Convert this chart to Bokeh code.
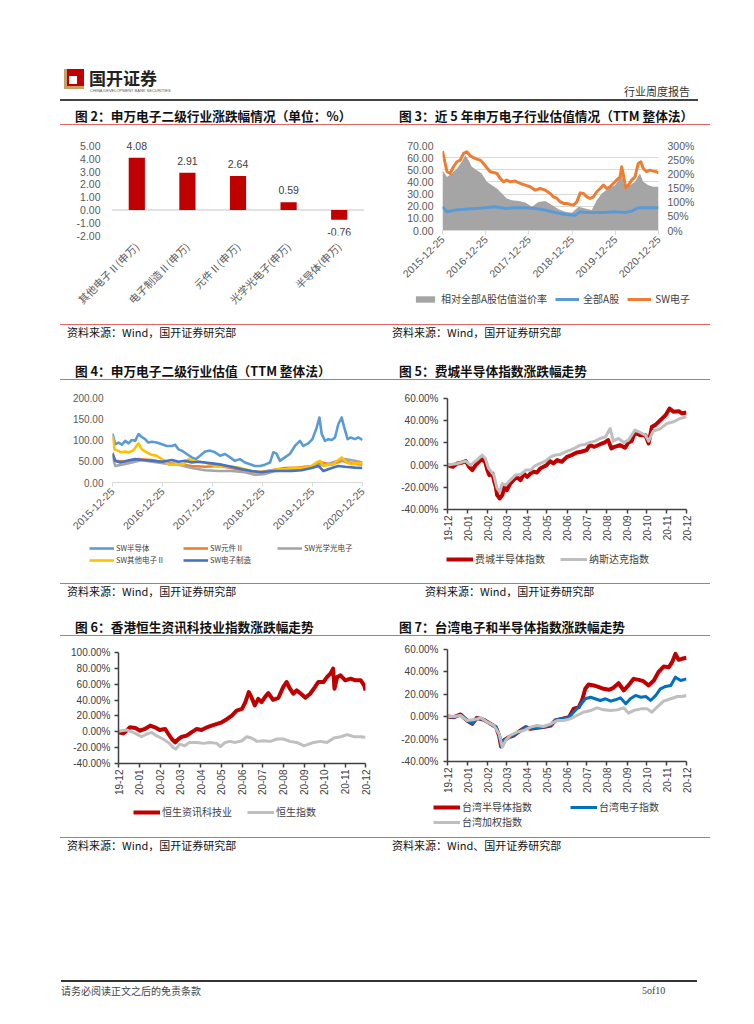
import math
import pandas as pd
from bokeh.plotting import figure
from bokeh.models import (ColumnDataSource, Div, Spacer, Span, LabelSet, Legend, LegendItem,
                          LinearAxis, Range1d, FixedTicker, DatetimeTickFormatter,
                          NumeralTickFormatter, PrintfTickFormatter, FactorRange)
from bokeh.layouts import column, row
from bokeh.core.properties import value
from bokeh.embed import file_html
from bokeh.resources import INLINE

CJK = "Noto Sans CJK SC"
LAT = "Liberation Sans"

# ---------------- 图2 data ----------------
c2_categories = ["其他电子Ⅱ(申万)", "电子制造Ⅱ(申万)", "元件Ⅱ(申万)", "光学光电子(申万)", "半导体(申万)"]
c2_values = [4.08, 2.91, 2.64, 0.59, -0.76]
c2_yticks = [-2, -1, 0, 1, 2, 3, 4, 5]

# ---------------- 图3 data ----------------
c3_xticks = ["2015-12-25", "2016-12-25", "2017-12-25", "2018-12-25", "2019-12-25", "2020-12-25"]
c3_pe_ticks = [0, 10, 20, 30, 40, 50, 60, 70]
c3_pct_ticks = [0, 50, 100, 150, 200, 250, 300]
c3_sw_dates = ["2015-12-25", "2016-02-01", "2016-02-28", "2016-03-27", "2016-04-25", "2016-05-23", "2016-06-20",
               "2016-07-18", "2016-08-15", "2016-09-12", "2016-10-10", "2016-11-08", "2016-12-06",
               "2017-01-03", "2017-01-31", "2017-03-01", "2017-03-29", "2017-04-26", "2017-05-24", "2017-06-21",
               "2017-07-19", "2017-08-31", "2017-10-13", "2017-11-24",
               "2018-01-05", "2018-02-16", "2018-03-31", "2018-05-12", "2018-06-23", "2018-07-21", "2018-08-19",
               "2018-09-16", "2018-10-14", "2018-11-11", "2018-12-09",
               "2019-01-06", "2019-02-03", "2019-03-04", "2019-04-01", "2019-04-29", "2019-05-27", "2019-06-24",
               "2019-07-22", "2019-08-19", "2019-09-16", "2019-10-14", "2019-11-11", "2019-12-09",
               "2020-01-06", "2020-02-04", "2020-02-18", "2020-03-03", "2020-03-23", "2020-04-14", "2020-05-12",
               "2020-06-09", "2020-07-07", "2020-07-29", "2020-08-18", "2020-09-15", "2020-10-13", "2020-11-10",
               "2020-12-08", "2020-12-25"]
c3_sw = [65.4, 48.4, 47.0, 52.5, 56.6, 58.0, 63.5, 64.8, 61.5, 60.0, 58.8, 58.0, 55.2,
         51.6, 48.4, 47.8, 47.0, 42.9, 40.1, 41.5, 40.1, 40.7, 38.7, 37.4,
         36.0, 33.2, 34.6, 33.2, 30.5, 27.7, 26.4, 23.6, 22.3, 22.3, 21.4,
         20.9, 23.6, 31.0, 30.5, 27.7, 26.4, 27.7, 31.9, 34.6, 37.4, 34.6, 36.0, 38.7,
         41.5, 44.2, 52.5, 45.6, 35.2, 37.4, 41.5, 44.2, 55.2, 56.6, 51.1, 48.4, 49.7, 48.9, 48.4, 47.5]
c3_a_dates = ["2015-12-25", "2016-02-01", "2016-04-11", "2016-07-04", "2016-09-26", "2016-12-20", "2017-03-15",
              "2017-06-08", "2017-08-31", "2017-11-24", "2018-02-16", "2018-05-12", "2018-08-04", "2018-10-28",
              "2019-01-20", "2019-03-04", "2019-04-15", "2019-07-08", "2019-09-30", "2019-12-24", "2020-03-17",
              "2020-05-12", "2020-07-07", "2020-09-30", "2020-12-25"]
c3_a = [19.5, 15.4, 16.8, 17.6, 18.1, 18.7, 19.5, 18.1, 18.7, 18.7, 18.1, 16.8, 14.8, 13.2,
        12.6, 15.4, 14.8, 14.8, 14.8, 15.4, 14.8, 15.9, 18.7, 18.7, 18.7]
c3_prem_dates = ["2015-12-25", "2016-02-01", "2016-03-14", "2016-04-25", "2016-06-06", "2016-07-04", "2016-08-01",
                 "2016-08-29", "2016-10-10", "2016-11-21",
                 "2017-01-03", "2017-02-15", "2017-03-29", "2017-05-10", "2017-06-21", "2017-08-03", "2017-09-28",
                 "2017-11-24",
                 "2018-01-19", "2018-03-16", "2018-05-12", "2018-07-07", "2018-09-01", "2018-10-28", "2018-12-23",
                 "2019-02-18", "2019-04-15", "2019-06-10", "2019-07-22", "2019-09-02", "2019-10-28", "2019-12-24",
                 "2020-02-18", "2020-03-17", "2020-04-28", "2020-06-09", "2020-07-21", "2020-08-18", "2020-09-30",
                 "2020-11-10", "2020-12-25"]
c3_prem = [213, 189, 201, 219, 243, 266, 249, 225, 213, 201,
           172, 160, 148, 131, 113, 107, 104, 99,
           84, 101, 104, 90, 75, 66, 63,
           84, 78, 72, 107, 131, 148, 160,
           195, 148, 160, 172, 201, 172, 160, 154, 154]

# ---------------- 图4 data ----------------
c4_yticks = [0, 50, 100, 150, 200]
c4_semi_dates = ["2015-12-25", "2016-01-14", "2016-02-07", "2016-03-03", "2016-03-27", "2016-04-20", "2016-05-14",
                 "2016-06-08", "2016-07-02", "2016-07-26", "2016-08-19", "2016-09-12", "2016-10-07", "2016-11-12",
                 "2016-12-20",
                 "2017-01-25", "2017-03-03", "2017-03-27", "2017-04-20", "2017-05-14", "2017-06-20", "2017-07-26",
                 "2017-08-24", "2017-09-25", "2017-10-31", "2017-12-07",
                 "2018-01-12", "2018-02-18", "2018-03-26", "2018-05-02", "2018-06-07", "2018-07-13", "2018-08-19",
                 "2018-09-25", "2018-10-31", "2018-12-07",
                 "2019-01-12", "2019-02-18", "2019-03-14", "2019-04-07", "2019-05-01", "2019-06-07", "2019-07-13",
                 "2019-08-19", "2019-09-25", "2019-10-19", "2019-11-25", "2019-12-25",
                 "2020-01-25", "2020-02-14", "2020-03-02", "2020-03-26", "2020-04-20", "2020-05-14", "2020-06-07",
                 "2020-07-01", "2020-07-26", "2020-08-14", "2020-09-07", "2020-10-01", "2020-10-30", "2020-11-24",
                 "2020-12-25"]
c4_semi = [115, 90, 94, 89, 98, 92, 100, 98, 114, 107, 102, 94, 96, 94, 90,
           86, 86, 89, 78, 75, 67, 59, 55, 63, 73, 75,
           71, 63, 67, 59, 51, 55, 47, 43, 39, 39,
           42, 47, 71, 68, 51, 59, 67, 86, 98, 86, 92, 102,
           129, 153, 114, 98, 102, 100, 106, 137, 153, 129, 102, 106, 102, 106, 100]
c4_comp_dates = ["2015-12-25", "2016-01-14", "2016-03-27", "2016-07-02", "2016-10-07", "2017-01-12", "2017-04-20",
                 "2017-07-26", "2017-10-31", "2018-02-07", "2018-05-14", "2018-08-19", "2018-11-25", "2019-03-03",
                 "2019-06-07", "2019-09-13", "2019-12-20", "2020-03-02", "2020-05-14", "2020-07-26", "2020-10-07",
                 "2020-12-25"]
c4_comp = [70, 51, 49, 55, 53, 47, 43, 39, 37, 39, 34, 27, 24, 29, 34, 35, 39, 47, 42, 51, 45, 42]
c4_opt_dates = ["2015-12-25", "2016-01-14", "2016-03-03", "2016-05-14", "2016-07-26", "2016-10-07", "2017-01-12",
                "2017-04-20", "2017-07-26", "2017-10-31", "2018-02-07", "2018-05-14", "2018-08-19", "2018-10-31",
                "2019-01-12", "2019-03-26", "2019-07-02", "2019-10-07", "2020-01-12", "2020-03-26", "2020-07-01",
                "2020-08-19", "2020-10-30", "2020-12-25"]
c4_opt = [59, 39, 42, 47, 53, 49, 45, 42, 34, 29, 27, 27, 24, 18, 20, 27, 29, 31, 39, 42, 51, 55, 51, 47]
c4_other_dates = ["2015-12-25", "2016-01-09", "2016-02-02", "2016-02-26", "2016-03-27", "2016-04-20", "2016-05-26",
                  "2016-07-02", "2016-07-26", "2016-08-31", "2016-10-07", "2016-11-12", "2016-12-20",
                  "2017-01-12", "2017-02-07", "2017-03-15", "2017-04-20", "2017-05-26", "2017-07-02", "2017-08-07",
                  "2017-09-13", "2017-10-31", "2017-12-20",
                  "2018-02-07", "2018-03-26", "2018-05-14", "2018-07-02", "2018-08-19", "2018-10-07", "2018-11-25",
                  "2019-01-12", "2019-03-03", "2019-04-20", "2019-06-07", "2019-07-26", "2019-09-13", "2019-10-31",
                  "2019-12-20",
                  "2020-01-25", "2020-02-19", "2020-03-14", "2020-04-20", "2020-05-26", "2020-07-01", "2020-07-26",
                  "2020-08-31", "2020-10-07", "2020-11-12", "2020-12-25"]
c4_other = [110, 78, 75, 71, 73, 71, 76, 92, 78, 71, 65, 63, 55,
            51, 42, 42, 43, 42, 55, 51, 49, 47, 42,
            37, 39, 37, 35, 31, 27, 25,
            24, 29, 31, 31, 34, 34, 35, 39,
            47, 51, 39, 42, 43, 53, 59, 47, 43, 45, 45]
c4_mfg_dates = ["2015-12-25", "2016-01-14", "2016-02-19", "2016-04-08", "2016-06-08", "2016-07-26", "2016-10-07",
                "2016-12-20", "2017-03-03", "2017-04-20", "2017-06-08", "2017-07-26", "2017-09-13", "2017-10-31",
                "2017-12-20", "2018-03-02", "2018-05-14", "2018-07-26", "2018-10-07", "2018-12-20", "2019-03-03",
                "2019-05-14", "2019-07-26", "2019-10-07", "2019-12-20", "2020-02-07", "2020-03-14", "2020-05-14",
                "2020-07-01", "2020-08-19", "2020-10-30", "2020-12-25"]
c4_mfg = [67, 51, 47, 51, 55, 53, 51, 49, 53, 49, 51, 47, 49, 47, 45, 42, 37, 31, 27, 24, 27,
          27, 27, 29, 34, 39, 27, 34, 39, 37, 35, 34]

# ---------------- 图5/6/7 shared axis ----------------
c57_xticks = ["2019-12-01", "2020-01-01", "2020-02-01", "2020-03-01", "2020-04-01", "2020-05-01", "2020-06-01",
              "2020-07-01", "2020-08-01", "2020-09-01", "2020-10-01", "2020-11-01", "2020-12-01"]

# ---------------- 图5 data ----------------
c5_yticks = [-40, -20, 0, 20, 40, 60]
c5_sox_dates = ["2019-12-01", "2019-12-09", "2019-12-16", "2019-12-24", "2019-12-29", "2020-01-03", "2020-01-08",
                "2020-01-13", "2020-01-18", "2020-01-23", "2020-01-28", "2020-01-31", "2020-02-03", "2020-02-08",
                "2020-02-10", "2020-02-13", "2020-02-15", "2020-02-19", "2020-02-23", "2020-02-26", "2020-03-01",
                "2020-03-06", "2020-03-11", "2020-03-16", "2020-03-22", "2020-03-27", "2020-04-01", "2020-04-06",
                "2020-04-11", "2020-04-16", "2020-04-21", "2020-04-26", "2020-05-01", "2020-05-06", "2020-05-11",
                "2020-05-17", "2020-05-24", "2020-06-01", "2020-06-08", "2020-06-16", "2020-06-23", "2020-07-01",
                "2020-07-06", "2020-07-13", "2020-07-21", "2020-07-29", "2020-08-03", "2020-08-08", "2020-08-13",
                "2020-08-21", "2020-08-29", "2020-09-03", "2020-09-08", "2020-09-13", "2020-09-21", "2020-09-29",
                "2020-10-04", "2020-10-09", "2020-10-14", "2020-10-22", "2020-10-30", "2020-11-05", "2020-11-11",
                "2020-11-19", "2020-11-24", "2020-12-01"]
c5_sox = [0, -1.5, 1.5, 2.4, 3.6, -1.5, -4.5, 0, 3, 5.4, 2.4, -4.5, -9, -7.6, -13.6, -19.6, -27, -30, -27,
          -19.6, -22.6, -16.6, -13.6, -10.6, -13.6, -7.6, -10.6, -7.6, -6, -6.6, -3, -1.5, 0, 3.6, 1.5, 4.5,
          3, 7.4, 9, 11.4, 12, 13.5, 18, 16.5, 18.6, 20.4, 22.5, 15, 16.5, 18, 15.6, 20.4, 21.6, 29.4, 27, 27,
          19.5, 34.5, 36, 40.5, 45, 51, 48, 48.6, 46.5, 47.4]
c5_ndq_dates = ["2019-12-01", "2019-12-16", "2019-12-29", "2020-01-05", "2020-01-15", "2020-01-23", "2020-01-28",
                "2020-02-02", "2020-02-10", "2020-02-15", "2020-02-19", "2020-02-23", "2020-02-28", "2020-03-06",
                "2020-03-14", "2020-03-22", "2020-03-30", "2020-04-06", "2020-04-13", "2020-04-21", "2020-04-29",
                "2020-05-07", "2020-05-14", "2020-05-22", "2020-05-30", "2020-06-06", "2020-06-14", "2020-06-21",
                "2020-06-29", "2020-07-06", "2020-07-14", "2020-07-22", "2020-07-30", "2020-08-06", "2020-08-11",
                "2020-08-19", "2020-08-27", "2020-09-03", "2020-09-13", "2020-09-21", "2020-09-29", "2020-10-04",
                "2020-10-11", "2020-10-21", "2020-11-01", "2020-11-11", "2020-11-21", "2020-12-01"]
c5_ndq = [0, 1.5, 3.6, 0, 4.5, 9, 6, -3, -9, -21, -24, -16.6, -18, -13.6, -9, -8.4, -4.5, -4.5, -0.6, 1.5,
          3.6, 7.4, 9, 9.6, 12, 13.5, 15.6, 18, 18.6, 20.4, 21.6, 24, 25.5, 33, 21.6, 24, 20.4, 22.5, 31.5,
          29.4, 27, 21.6, 30.6, 32.4, 37.5, 39, 42, 43.5]

# ---------------- 图6 data ----------------
c6_yticks = [-40, -20, 0, 20, 40, 60, 80, 100]
c6_it_dates = ["2019-12-01", "2019-12-08", "2019-12-13", "2019-12-18", "2019-12-26",
               "2020-01-02", "2020-01-09", "2020-01-17", "2020-01-24", "2020-01-31",
               "2020-02-08", "2020-02-13", "2020-02-18", "2020-02-23", "2020-02-28",
               "2020-03-04", "2020-03-11", "2020-03-18", "2020-03-26",
               "2020-04-02", "2020-04-10", "2020-04-17", "2020-04-25",
               "2020-05-02", "2020-05-10", "2020-05-17", "2020-05-24",
               "2020-06-01", "2020-06-06", "2020-06-11", "2020-06-15", "2020-06-20", "2020-06-25", "2020-06-30",
               "2020-07-05", "2020-07-10", "2020-07-17", "2020-07-25",
               "2020-08-01", "2020-08-06", "2020-08-11", "2020-08-16", "2020-08-21", "2020-08-26",
               "2020-09-03", "2020-09-10", "2020-09-17", "2020-09-22", "2020-09-30",
               "2020-10-05", "2020-10-10", "2020-10-14", "2020-10-16", "2020-10-20", "2020-10-25",
               "2020-11-01", "2020-11-09", "2020-11-16", "2020-11-24", "2020-11-29",
               "2020-12-01"]
c6_it = [-0.7, -2, 1.4, 5.7, 4.8,
         1.4, 3.6, 7.8, 5.7, 2.3,
         3.6, -2.8, -9.1, -13.4, -9.1,
         -6.2, -4.9, -0.7, 3.6,
         2.3, 5.7, 7.8, 9.9,
         12, 16.2, 20.5, 26.8,
         28.9, 37.4, 50.1, 43.7, 33.2, 41.6, 37.4,
         43.7, 48.8, 40.4, 42.9,
         56.4, 62.8, 54.3, 48, 52.2, 48.8,
         42.9, 48, 56.4, 62.8, 62.8,
         69.1, 73.3, 79.7, 54.3, 69.1, 71.2,
         64.9, 67, 64.9, 64.9, 58.5,
         52.2]
c6_hsi_dates = ["2019-12-01", "2019-12-13", "2019-12-26",
                "2020-01-04", "2020-01-12", "2020-01-19", "2020-01-26",
                "2020-02-05", "2020-02-13", "2020-02-20", "2020-02-24",
                "2020-03-01", "2020-03-08", "2020-03-15", "2020-03-26",
                "2020-04-05", "2020-04-15", "2020-04-25", "2020-04-30",
                "2020-05-07", "2020-05-14", "2020-05-22",
                "2020-06-01", "2020-06-08", "2020-06-15", "2020-06-23",
                "2020-07-03", "2020-07-13", "2020-07-23",
                "2020-08-01", "2020-08-11", "2020-08-21",
                "2020-09-01", "2020-09-08", "2020-09-15", "2020-09-25",
                "2020-10-05", "2020-10-15", "2020-10-25",
                "2020-11-04", "2020-11-14", "2020-11-24",
                "2020-12-01"]
c6_hsi = [0.6, 2.3, -2,
          -6.2, -2.8, -0.7, -4.9,
          -9.1, -13.4, -19.7, -21.8,
          -15.5, -17.7, -13.4, -13.4,
          -14.6, -13.4, -14.6, -18.9,
          -13.4, -12.1, -13.4,
          -11.3, -6.2, -7.9, -12.1,
          -11.3, -12.1, -9.1,
          -9.1, -12.1, -13.4,
          -17.7, -15.5, -13.4, -12.1,
          -13.4, -7.9, -6.2,
          -3.6, -6.2, -6.2,
          -7]

# ---------------- 图7 data ----------------
c7_yticks = [-40, -20, 0, 20, 40, 60]
c7_semi_dates = ["2019-12-01", "2019-12-11", "2019-12-21", "2019-12-31",
                 "2020-01-08", "2020-01-15", "2020-01-26",
                 "2020-02-05", "2020-02-13", "2020-02-18", "2020-02-21", "2020-02-25",
                 "2020-03-04", "2020-03-11", "2020-03-22", "2020-03-30",
                 "2020-04-06", "2020-04-16", "2020-04-26",
                 "2020-05-07", "2020-05-14", "2020-05-24",
                 "2020-06-04", "2020-06-11", "2020-06-19", "2020-06-24", "2020-06-29",
                 "2020-07-04", "2020-07-12", "2020-07-20", "2020-07-27",
                 "2020-08-04", "2020-08-11", "2020-08-19", "2020-08-27",
                 "2020-09-03", "2020-09-11", "2020-09-19", "2020-09-26",
                 "2020-10-04", "2020-10-12", "2020-10-19", "2020-10-27",
                 "2020-11-04", "2020-11-09", "2020-11-14", "2020-11-19", "2020-11-24",
                 "2020-12-01"]
c7_semi = [0.2, -0.4, 2, -3.4,
           -6.4, -1, -2.8,
           -6.4, -9.3, -16.8, -26.6, -21.3,
           -18.3, -16.8, -12.3, -9.3,
           -10.8, -9.9, -9.3,
           -7.9, -3.4, -1.9,
           -0.4, 7, 8.5, 14.5, 24.9,
           28.8, 27.9, 26.4, 24.9,
           24, 25.8, 29.9, 23.4,
           27.9, 33.8, 32.9, 31.7,
           27.9, 32.3, 39.8, 44.8,
           44.2, 48.7, 56.1, 50.8, 51.7,
           52.6]
c7_elec_dates = ["2019-12-01", "2019-12-11", "2019-12-21", "2019-12-31",
                 "2020-01-08", "2020-01-15", "2020-01-26",
                 "2020-02-05", "2020-02-13", "2020-02-18", "2020-02-21", "2020-02-25",
                 "2020-03-04", "2020-03-11", "2020-03-22", "2020-03-30",
                 "2020-04-06", "2020-04-16", "2020-04-26",
                 "2020-05-07", "2020-05-14", "2020-05-24",
                 "2020-06-04", "2020-06-11", "2020-06-21", "2020-06-29",
                 "2020-07-07", "2020-07-14", "2020-07-22", "2020-07-30",
                 "2020-08-07", "2020-08-14", "2020-08-22", "2020-08-30",
                 "2020-09-06", "2020-09-14", "2020-09-22", "2020-09-30",
                 "2020-10-07", "2020-10-15", "2020-10-22", "2020-10-30",
                 "2020-11-07", "2020-11-14", "2020-11-22",
                 "2020-12-01"]
c7_elec = [0.2, -0.4, 1.5, -3.4,
           -6.0, -1.2, -2.8,
           -6.6, -9.0, -16.0, -26.0, -21.0,
           -18.5, -16.5, -12.5, -9.5,
           -10.5, -9.8, -9.3,
           -7.5, -3.2, -1.9,
           -0.8, 4, 10, 16,
           17.4, 16, 14.5, 16,
           13.9, 15.1, 16.8, 11.5,
           16, 19, 17.4, 18,
           14.5, 19, 24.9, 27,
           27.9, 35.3, 32.3,
           33.8]
c7_taiex_dates = ["2019-12-01", "2019-12-11", "2019-12-21", "2019-12-31",
                  "2020-01-10", "2020-01-21", "2020-01-31",
                  "2020-02-10", "2020-02-18", "2020-02-23", "2020-02-28",
                  "2020-03-06", "2020-03-16", "2020-03-27",
                  "2020-04-06", "2020-04-16", "2020-04-26",
                  "2020-05-07", "2020-05-17", "2020-05-27",
                  "2020-06-06", "2020-06-16", "2020-06-26",
                  "2020-07-07", "2020-07-17", "2020-07-27",
                  "2020-08-07", "2020-08-17", "2020-08-27",
                  "2020-09-03", "2020-09-11", "2020-09-22",
                  "2020-10-02", "2020-10-09", "2020-10-17", "2020-10-27",
                  "2020-11-07", "2020-11-17", "2020-11-24",
                  "2020-12-01"]
c7_taiex = [0.2, 0.2, 1.1, -3.4,
            -2.8, -1, -4.9,
            -7.9, -15.3, -27.2, -21.3,
            -16.8, -13.8, -12.3,
            -9.3, -7.9, -8.8,
            -6.4, -3.4, -3.4,
            -1.9, 1.1, 4,
            5.5, 7.9, 6.1,
            5.5, 6.1, 7.9,
            3.2, 5.5, 7,
            7, 4, 8.5, 13.9,
            16, 18, 18,
            19]


# ======================= helpers =======================
def dt(lst):
    return pd.to_datetime(lst)


def ms(lst):
    return [pd.Timestamp(t).value / 1e6 for t in lst]


def src(dates, vals):
    n = min(len(dates), len(vals))
    return ColumnDataSource(dict(d=dt(dates[:n]), v=vals[:n]))


def no_align(p):
    if "frame_align" in p.properties():
        p.frame_align = False


def make_fig(w, h, l, r, t, b, xr, yr, xtype="auto"):
    p = figure(width=w, height=h, x_range=xr, y_range=yr, x_axis_type=xtype,
               output_backend="svg", toolbar_location=None,
               min_border_left=l, min_border_right=r, min_border_top=t, min_border_bottom=b)
    p.outline_line_color = None
    p.xgrid.visible = False
    p.ygrid.visible = False
    p.background_fill_color = "white"
    p.border_fill_color = "white"
    no_align(p)
    return p


def style_axis(ax, color, size, font, standoff, line_color=None, line_width=1.0, tick_out=0):
    ax.major_label_text_color = color
    ax.major_label_text_font_size = size
    ax.major_label_text_font = font
    ax.major_label_standoff = standoff
    ax.axis_line_color = line_color
    ax.axis_line_width = line_width
    ax.major_tick_line_color = line_color if tick_out else None
    ax.major_tick_line_width = line_width
    ax.major_tick_out = tick_out
    ax.major_tick_in = 0
    ax.minor_tick_line_color = None


def legend_fig(w, h, entries, vx, vy, font_size, glyph_w, glyph_h, standoff, spacing,
               ncols=None, label_w=10, label_h=10):
    """A key panel below a chart; its renderers share the chart's sources but lie
    outside this panel's ranges, so only the legend shows."""
    lf = figure(width=w, height=h, x_range=Range1d(0, 1), y_range=Range1d(0, 1),
                output_backend="svg", toolbar_location=None,
                min_border_left=0, min_border_right=0, min_border_top=0, min_border_bottom=0,
                x_axis_location=None, y_axis_location=None)
    lf.outline_line_color = None
    lf.grid.visible = False
    lf.background_fill_color = "white"
    lf.border_fill_color = "white"
    no_align(lf)
    items = []
    for label, kind, source, color, width in entries:
        if kind == "area":
            r = lf.varea(x="d", y1=0, y2="v", source=source, fill_color=color)
        else:
            r = lf.line("d", "v", source=source, line_color=color, line_width=width)
        items.append(LegendItem(label=label, renderers=[r]))
    kw = {}
    if ncols:
        kw["ncols"] = ncols
    lg = Legend(items=items, location=(vx, vy), orientation="horizontal",
                label_text_font=CJK, label_text_font_size=font_size, label_text_color="#404040",
                glyph_width=glyph_w, glyph_height=glyph_h, label_standoff=standoff, spacing=spacing,
                label_width=label_w, label_height=label_h, padding=0, margin=0,
                border_line_color=None, background_fill_alpha=0, **kw)
    lf.add_layout(lg)
    return lf


def date_fmt(fmt):
    return DatetimeTickFormatter(days=fmt, months=fmt, years=fmt, hours=fmt, hourmin=fmt,
                                 minutes=fmt, minsec=fmt, seconds=fmt, milliseconds=fmt,
                                 microseconds=fmt)


# ======================= 图2 =======================
p2 = make_fig(324, 199, 51, 20, 13, 89, FactorRange(*c2_categories), Range1d(-2, 5.58))
s2 = ColumnDataSource(dict(cat=c2_categories, val=c2_values,
                           txt=[f"{v:.2f}" for v in c2_values],
                           off=[12 if v >= 0 else -12 for v in c2_values]))
p2.add_layout(Span(location=0, dimension="width", line_color="#D9D9D9", line_width=1.5, level="underlay"))
p2.vbar(x="cat", top="val", width=0.32, fill_color="#C00000", line_color=None, source=s2)
p2.add_layout(LabelSet(x="cat", y="val", text="txt", y_offset="off", source=s2,
                       text_align="center", text_baseline="middle", text_font_size="10.5px",
                       text_color="#404040", text_font=value(LAT)))
p2.yaxis.ticker = FixedTicker(ticks=c2_yticks)
p2.yaxis.formatter = NumeralTickFormatter(format="0.00")
style_axis(p2.yaxis[0], "#595959", "10.5px", LAT, 11)
style_axis(p2.xaxis[0], "#595959", "10.5px", CJK, 9)
p2.xaxis.major_label_orientation = math.pi / 4

# ======================= 图3 =======================
s3_prem = src(c3_prem_dates, c3_prem)
s3_a = src(c3_a_dates, c3_a)
s3_sw = src(c3_sw_dates, c3_sw)
p3 = make_fig(326, 162, 58, 52, 20, 57,
              Range1d(pd.Timestamp(c3_xticks[0]), pd.Timestamp(c3_xticks[-1])),
              Range1d(0, 70), "datetime")
p3.extra_y_ranges = {"pct": Range1d(0, 300)}
ax3r = LinearAxis(y_range_name="pct", ticker=FixedTicker(ticks=c3_pct_ticks),
                  formatter=PrintfTickFormatter(format="%d%%"))
p3.add_layout(ax3r, "right")
p3.yaxis[0].ticker = FixedTicker(ticks=c3_pe_ticks)
p3.yaxis[0].formatter = NumeralTickFormatter(format="0.00")
p3.ygrid.visible = True
p3.ygrid[0].ticker = FixedTicker(ticks=c3_pe_ticks)
p3.ygrid.grid_line_color = "#D9D9D9"
p3.xaxis.ticker = FixedTicker(ticks=ms(c3_xticks))
p3.xaxis.formatter = date_fmt("%Y-%m-%d")
p3.xaxis.major_label_orientation = math.pi / 4
style_axis(p3.yaxis[0], "#595959", "10.5px", LAT, 9)
style_axis(ax3r, "#595959", "10.5px", LAT, 9)
style_axis(p3.xaxis[0], "#595959", "10.5px", LAT, 3, "#D9D9D9", 1, 4)
p3.varea(x="d", y1=0, y2="v", source=s3_prem, y_range_name="pct", fill_color="#A5A5A5")
p3.line("d", "v", source=s3_a, line_color="#5B9BD5", line_width=3, line_join="round")
p3.line("d", "v", source=s3_sw, line_color="#ED7D31", line_width=3, line_join="round")
lf3 = legend_fig(326, 37, [("相对全部A股估值溢价率", "area", s3_prem, "#A5A5A5", 0),
                           ("全部A股", "line", s3_a, "#5B9BD5", 3),
                           ("SW电子", "line", s3_sw, "#ED7D31", 3)],
                 29, 18, "10px", 24, 8, 4, 8)

# ======================= 图4 =======================
s4a = src(c4_semi_dates, c4_semi)
s4b = src(c4_comp_dates, c4_comp)
s4c = src(c4_opt_dates, c4_opt)
s4d = src(c4_other_dates, c4_other)
s4e = src(c4_mfg_dates, c4_mfg)
p4 = make_fig(324, 158, 52, 22, 17, 56,
              Range1d(pd.Timestamp(c3_xticks[0]), pd.Timestamp(c3_xticks[-1])),
              Range1d(0, 200), "datetime")
p4.yaxis.ticker = FixedTicker(ticks=c4_yticks)
p4.yaxis.formatter = NumeralTickFormatter(format="0.00")
p4.xaxis.ticker = FixedTicker(ticks=ms(c3_xticks))
p4.xaxis.formatter = date_fmt("%Y-%m-%d")
p4.xaxis.major_label_orientation = math.pi / 4
style_axis(p4.yaxis[0], "#595959", "10px", LAT, 9)
style_axis(p4.xaxis[0], "#595959", "10.5px", LAT, 3, "#D9D9D9", 1, 4)
c4_colors = ["#5B9BD5", "#ED7D31", "#A5A5A5", "#FFC000", "#4472C4"]
c4_labels = ["SW半导体", "SW元件Ⅱ", "SW光学光电子", "SW其他电子Ⅱ", "SW电子制造"]
for s, c in zip([s4a, s4b, s4c, s4d, s4e], c4_colors):
    p4.line("d", "v", source=s, line_color=c, line_width=2.6, line_join="round")
lf4 = legend_fig(324, 45, [(lab, "line", s, c, 2.6) for lab, s, c in
                           zip(c4_labels, [s4a, s4b, s4c, s4d, s4e], c4_colors)],
                 29, 18, "7.5px", 25, 6, 2, 1, ncols=3, label_w=66, label_h=8)


# ======================= 图5/6/7 =======================
def idx_fig(w, h, l, r, t, b, yr, yt, ystand):
    p = make_fig(w, h, l, r, t, b,
                 Range1d(pd.Timestamp(c57_xticks[0]), pd.Timestamp(c57_xticks[-1])),
                 Range1d(*yr), "datetime")
    p.xaxis.ticker = FixedTicker(ticks=ms(c57_xticks))
    p.xaxis.formatter = date_fmt("%y-%m")
    p.xaxis.major_label_orientation = math.pi / 2
    p.yaxis.ticker = FixedTicker(ticks=yt)
    p.yaxis.formatter = PrintfTickFormatter(format="%.2f%%")
    style_axis(p.yaxis[0], "#404040", "10px", LAT, ystand, "#404040", 1.5, 4)
    style_axis(p.xaxis[0], "#404040", "10px", LAT, 2, "#404040", 1.5, 4)
    return p


s5a = src(c5_sox_dates, c5_sox)
s5b = src(c5_ndq_dates, c5_ndq)
p5 = idx_fig(326, 165, 63, 24, 18, 36, (-40, 60), c5_yticks, 5)
p5.line("d", "v", source=s5a, line_color="#C00000", line_width=4, line_join="round")
p5.line("d", "v", source=s5b, line_color="#BFBFBF", line_width=3, line_join="round")
lf5 = legend_fig(326, 38, [("费城半导体指数", "line", s5a, "#C00000", 4),
                           ("纳斯达克指数", "line", s5b, "#BFBFBF", 3)],
                 62, 17, "10px", 27, 8, 2, 15)

s6a = src(c6_it_dates, c6_it)
s6b = src(c6_hsi_dates, c6_hsi)
p6 = idx_fig(324, 163, 58, 19, 16, 36, (-40, 100), c6_yticks, 4)
p6.line("d", "v", source=s6a, line_color="#C00000", line_width=4, line_join="round")
p6.line("d", "v", source=s6b, line_color="#BFBFBF", line_width=3, line_join="round")
lf6 = legend_fig(324, 38, [("恒生资讯科技业", "line", s6a, "#C00000", 4),
                           ("恒生指数", "line", s6b, "#BFBFBF", 3)],
                 73, 18, "10px", 27, 8, 2, 15)

s7a = src(c7_semi_dates, c7_semi)
s7b = src(c7_elec_dates, c7_elec)
s7c = src(c7_taiex_dates, c7_taiex)
p7 = idx_fig(326, 161, 63, 24, 13, 36, (-40, 60), c7_yticks, 5)
p7.line("d", "v", source=s7a, line_color="#C00000", line_width=4, line_join="round")
p7.line("d", "v", source=s7b, line_color="#0070C0", line_width=3, line_join="round")
p7.line("d", "v", source=s7c, line_color="#BFBFBF", line_width=3, line_join="round")
lf7 = legend_fig(326, 40, [("台湾半导体指数", "line", s7a, "#C00000", 4),
                           ("台湾电子指数", "line", s7b, "#0070C0", 3),
                           ("台湾加权指数", "line", s7c, "#BFBFBF", 3)],
                 49, 8, "10px", 27, 8, 2, 0, ncols=2, label_w=108, label_h=9)


# ======================= page pieces =======================
def title_div(text, w, h, left, top):
    html = (f'<div style="position:relative;width:{w}px;height:{h}px;">'
            f'<div style="position:absolute;left:{left}px;top:{top}px;font-family:\'{CJK}\';font-weight:bold;'
            f'font-size:12.7px;line-height:14px;color:#111;white-space:nowrap;">{text}</div>'
            f'<div style="position:absolute;left:0;top:{h - 1}px;width:{w}px;height:1px;background:#E06666;"></div>'
            f'</div>')
    return Div(text=html, width=w, height=h, margin=0)


def source_div(text, w, h, left):
    html = (f'<div style="position:relative;width:{w}px;height:{h}px;">'
            f'<div style="position:absolute;left:0;top:0;width:{w}px;height:1px;background:#E06666;"></div>'
            f'<div style="position:absolute;left:{left}px;top:1px;font-family:\'{CJK}\';'
            f'font-size:11px;line-height:14px;color:#111;white-space:nowrap;">{text}</div>'
            f'</div>')
    return Div(text=html, width=w, height=h, margin=0)


header_html = (
    '<div style="position:relative;width:710px;height:108px;">'
    '<div style="position:absolute;left:64px;top:69px;width:20px;height:20px;background:#C00000;"></div>'
    '<div style="position:absolute;left:64px;top:69px;width:3px;height:20px;background:#C8A06A;"></div>'
    '<div style="position:absolute;left:64px;top:86px;width:20px;height:3px;background:#C8A06A;"></div>'
    '<div style="position:absolute;left:69px;top:76px;width:8px;height:8px;background:#FFFFFF;"></div>'
    f'<div style="position:absolute;left:89px;top:67px;font-family:\'{CJK}\';font-weight:bold;font-size:17px;'
    'line-height:22px;color:#222;white-space:nowrap;">国开证券</div>'
    f'<div style="position:absolute;left:90px;top:88px;font-family:\'{LAT}\';font-size:4px;line-height:5px;'
    'color:#555;white-space:nowrap;">CHINA DEVELOPMENT BANK SECURITIES</div>'
    f'<div style="position:absolute;left:624px;top:84px;font-family:\'{CJK}\';font-size:11px;line-height:14px;'
    'color:#333;white-space:nowrap;">行业周度报告</div>'
    '<div style="position:absolute;left:60px;top:99px;width:638px;height:2px;background:#444;"></div>'
    '</div>')
header = Div(text=header_html, width=710, height=108, margin=0)

footer_html = (
    '<div style="position:relative;width:710px;height:30px;">'
    '<div style="position:absolute;left:61px;top:2px;width:636px;height:2px;background:#333;"></div>'
    f'<div style="position:absolute;left:61px;top:6px;font-family:\'{CJK}\';font-size:10px;line-height:14px;'
    'color:#444;white-space:nowrap;">请务必阅读正文之后的免责条款</div>'
    '<div style="position:absolute;left:642px;top:6px;font-family:\'Liberation Serif\';font-size:10px;'
    'line-height:14px;color:#444;white-space:nowrap;">5of10</div>'
    '</div>')
footer = Div(text=footer_html, width=710, height=30, margin=0)


def hrow(a, b, h):
    return row(Spacer(width=60, height=h, margin=0), a, b, spacing=0)


rowA_t = hrow(title_div("图 2：申万电子二级行业涨跌幅情况（单位：%）", 324, 17, 15, 1),
              title_div("图 3：近 5 年申万电子行业估值情况（TTM 整体法）", 326, 17, 15, 1), 17)
rowA_f = hrow(p2, column(p3, lf3, spacing=0), 199)
rowA_s = hrow(source_div("资料来源：Wind，国开证券研究部", 324, 24, 7),
              source_div("资料来源：Wind，国开证券研究部", 326, 24, 8), 24)
rowB_t = hrow(title_div("图 4：申万电子二级行业估值（TTM 整体法）", 324, 18, 15, 2),
              title_div("图 5：费城半导体指数涨跌幅走势", 326, 18, 15, 2), 18)
rowB_f = hrow(column(p4, lf4, spacing=0), column(p5, lf5, spacing=0), 203)
rowB_s = hrow(source_div("资料来源：Wind，国开证券研究部", 324, 24, 7),
              source_div("资料来源：Wind，国开证券研究部", 326, 24, 41), 24)
rowC_t = hrow(title_div("图 6：香港恒生资讯科技业指数涨跌幅走势", 324, 18, 15, 2),
              title_div("图 7：台湾电子和半导体指数涨跌幅走势", 326, 18, 15, 2), 18)
rowC_f = hrow(column(p6, lf6, spacing=0), column(p7, lf7, spacing=0), 201)
rowC_s = hrow(source_div("资料来源：Wind，国开证券研究部", 324, 24, 7),
              source_div("资料来源：Wind、国开证券研究部", 326, 24, 8), 24)

page = column(header, rowA_t, rowA_f, rowA_s, Spacer(width=710, height=14, margin=0),
              rowB_t, rowB_f, rowB_s, Spacer(width=710, height=11, margin=0),
              rowC_t, rowC_f, rowC_s, Spacer(width=710, height=117, margin=0),
              footer, spacing=0)

open("out.html", "w").write(file_html(page, INLINE))
